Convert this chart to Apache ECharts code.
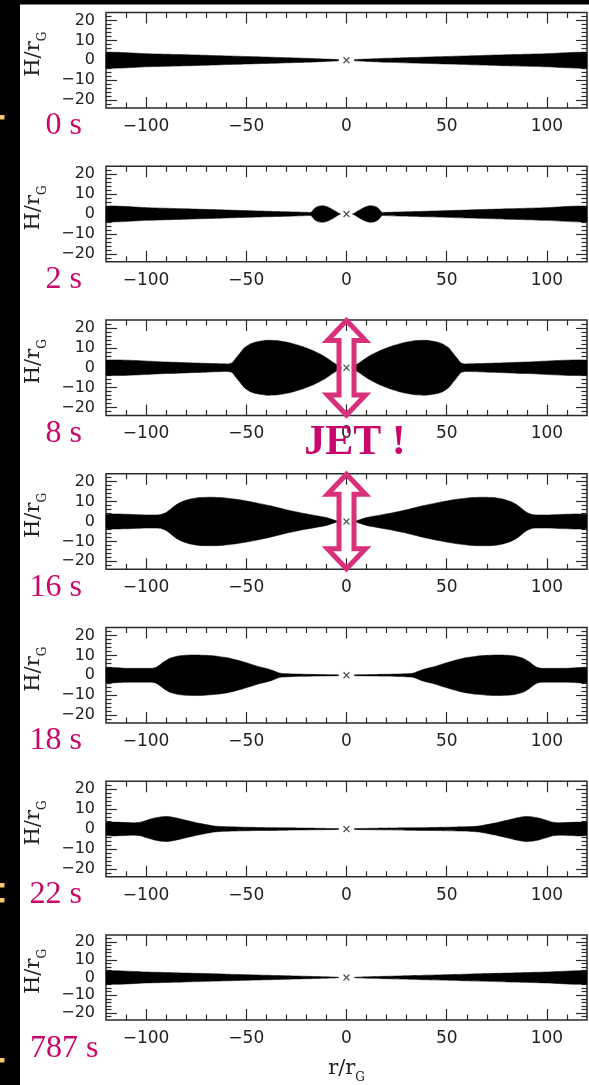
<!DOCTYPE html>
<html>
<head>
<meta charset="utf-8">
<script src="https://cdn.jsdelivr.net/npm/echarts@6/dist/echarts.min.js"></script>
<style>
  html, body { margin: 0; padding: 0; background: #000; }
  #chart { width: 589px; height: 1085px; }
</style>
</head>
<body>
<div id="chart"></div>
<script>
// snapshots of disc half-thickness H (in r_G) against radius r (in r_G), r >= 0 side
const TIME_LABELS = ['0 s', '2 s', '8 s', '16 s', '18 s', '22 s', '787 s'];

const R_0S = [4, 10, 20, 50, 80, 100, 120];
const H_0S = [0.3, 0.6, 1.0, 1.9, 2.8, 3.3, 3.75];

const R_2S = [3, 4, 6, 8, 10, 12, 14, 15.5, 16.5, 17.2, 18, 25, 40, 60, 80, 100, 120];
const H_2S = [0, 0.5, 1.7, 2.9, 3.8, 4.2, 3.9, 3.2, 2.2, 1.2, 0.8, 1.0, 1.4, 2.0, 2.6, 3.2, 3.75];

const R_8S = [2.5, 6, 11, 16, 22, 28, 34, 40, 45, 48, 51, 53, 55, 57, 59, 70, 90, 120];
const H_8S = [0, 2.3, 5.7, 8.3, 10.7, 12.5, 13.6, 13.8, 13.0, 12.0, 10.0, 7.5, 5.0, 2.5, 1.9, 2.2, 2.9, 3.7];

const R_16S = [4, 10, 22, 30, 38, 46, 55, 62, 68, 74, 78, 82, 85, 88, 90, 93, 100, 120];
const H_16S = [0, 2.0, 4.2, 5.9, 7.9, 9.6, 11.2, 12.0, 12.2, 12.0, 11.3, 10.0, 8.4, 6.0, 4.5, 3.4, 3.3, 3.5];

const R_18S = [4, 15, 25, 32, 34, 37, 40, 44, 48, 52, 56, 60, 65, 70, 75, 80, 84, 88, 91, 93, 95, 97, 110, 120];
const H_18S = [0.2, 0.4, 0.6, 0.9, 1.3, 2.5, 3.4, 4.4, 5.7, 6.9, 8.0, 8.9, 9.6, 10.0, 10.2, 10.1, 9.7, 8.6, 6.9, 5.3, 4.0, 3.5, 3.5, 3.6];

const R_22S = [4, 15, 30, 45, 55, 62, 66, 70, 74, 78, 82, 86, 89, 92, 96, 100, 103, 106, 120];
const H_22S = [0.2, 0.4, 0.6, 0.8, 1.0, 1.2, 1.5, 2.2, 3.0, 3.9, 4.9, 5.8, 6.3, 6.2, 5.5, 4.3, 3.4, 3.1, 3.2];

const R_787S = [4, 10, 20, 40, 60, 80, 100, 120];
const H_787S = [0.15, 0.4, 0.7, 1.3, 1.9, 2.5, 3.1, 3.6];

const X_MAJOR = [-100, -50, 0, 50, 100];
const X_MINOR = [-110, -90, -80, -70, -60, -40, -30, -20, -10, 10, 20, 30, 40, 60, 70, 80, 90, 110];
const Y_MAJOR = [-20, -10, 0, 10, 20];
const Y_MINOR = [-22, -18, -16, -14, -12, -8, -6, -4, -2, 2, 4, 6, 8, 12, 14, 16, 18, 22];
const JET_PANELS = [2, 3];

const PROFILES = [
  [R_0S, H_0S], [R_2S, H_2S], [R_8S, H_8S], [R_16S, H_16S],
  [R_18S, H_18S], [R_22S, H_22S], [R_787S, H_787S],
];

const GRID_LEFT = 106;
const GRID_WIDTH = 481;
const GRID_HEIGHT = 95.5;
const FIRST_TOP = 12.5;
const STEP = 153.75;
const INK = '#2a2a2a';
const MAGENTA = '#c8086a';

const chart = echarts.init(document.getElementById('chart'), null, { renderer: 'canvas' });

const minusFmt = (v) => (v < 0 ? '\u2212' + Math.abs(v) : String(v));

const grids = [];
const xAxes = [];
const yAxes = [];
const series = [];
const graphics = [];

graphics.push({ type: 'rect', z: -10, shape: { x: 20, y: 4.5, width: 569, height: 1081 }, style: { fill: '#fff' }, silent: true });
[115, 883, 898, 1058].forEach((y) => {
  graphics.push({ type: 'rect', shape: { x: 0, y: y, width: 4.5, height: 4.5 }, style: { fill: '#f3c36e' }, silent: true });
});

const nameRich = {
  a: { fontFamily: 'DejaVu Serif', fontSize: 21, color: '#222', verticalAlign: 'bottom', padding: [0, 0, 5, 0] },
  b: { fontFamily: 'DejaVu Serif', fontSize: 12, color: '#222', verticalAlign: 'bottom' },
};

PROFILES.forEach(([r, h], i) => {
  const top = FIRST_TOP + i * STEP;
  const last = i === PROFILES.length - 1;
  grids.push({
    left: GRID_LEFT, top: top, width: GRID_WIDTH, height: GRID_HEIGHT,
    show: true, borderColor: INK, borderWidth: 1.5, backgroundColor: 'transparent',
  });

  const hidden = { show: false, onZero: false };
  const tick = (vals, len) => ({ show: true, inside: true, length: len, customValues: vals, lineStyle: { color: INK, width: 1.2 } });

  const xBase = { gridIndex: i, type: 'value', min: -120, max: 120, axisLine: hidden, splitLine: { show: false } };
  xAxes.push(Object.assign({}, xBase, {
    position: 'bottom',
    axisTick: tick(X_MAJOR, 11),
    axisLabel: { customValues: X_MAJOR, formatter: minusFmt, color: '#222', fontFamily: 'DejaVu Sans', fontSize: 17, margin: 10 },
    name: last ? '{a|r/r}{b|G}' : '',
    nameLocation: 'middle',
    nameGap: 38,
    nameTextStyle: { rich: nameRich },
  }));
  xAxes.push(Object.assign({}, xBase, { position: 'bottom', axisTick: tick(X_MINOR, 5.5), axisLabel: { show: false } }));
  xAxes.push(Object.assign({}, xBase, { position: 'top', axisTick: tick(X_MAJOR, 11), axisLabel: { show: false } }));
  xAxes.push(Object.assign({}, xBase, { position: 'top', axisTick: tick(X_MINOR, 5.5), axisLabel: { show: false } }));

  const yBase = { gridIndex: i, type: 'value', min: -24, max: 24, axisLine: hidden, splitLine: { show: false } };
  yAxes.push(Object.assign({}, yBase, {
    position: 'left',
    axisTick: tick(Y_MAJOR, 11),
    axisLabel: { customValues: Y_MAJOR, formatter: minusFmt, color: '#222', fontFamily: 'DejaVu Sans', fontSize: 16, margin: 11 },
    name: '{a|H/r}{b|G}',
    nameLocation: 'middle',
    nameRotate: 90,
    nameGap: 57,
    nameTextStyle: { padding: [0, 0, 0, 12], rich: nameRich },
  }));
  yAxes.push(Object.assign({}, yBase, { position: 'left', axisTick: tick(Y_MINOR, 5.5), axisLabel: { show: false } }));
  yAxes.push(Object.assign({}, yBase, { position: 'right', axisTick: tick(Y_MAJOR, 11), axisLabel: { show: false } }));
  yAxes.push(Object.assign({}, yBase, { position: 'right', axisTick: tick(Y_MINOR, 5.5), axisLabel: { show: false } }));

  // filled band -H..+H, one polygon per side of the hole (side = -1 left, +1 right)
  series.push({
    type: 'custom',
    xAxisIndex: 4 * i,
    yAxisIndex: 4 * i,
    data: [[-1], [1]],
    silent: true,
    z: 2,
    renderItem: (params, api) => {
      const side = api.value(0);
      const box = params.coordSys;
      const upper = r.map((v, k) => api.coord([side * v, h[k]]));
      const lower = r.map((v, k) => api.coord([side * v, -h[k]])).reverse();
      return {
        type: 'polygon',
        shape: {
          points: upper.concat(lower),
          smooth: 0.15,
          smoothConstraint: [[box.x, box.y], [box.x + box.width, box.y + box.height]],
        },
        style: { fill: '#000', stroke: '#000', lineWidth: 0.5 },
      };
    },
  });
  series.push({
    type: 'scatter',
    xAxisIndex: 4 * i,
    yAxisIndex: 4 * i,
    data: [[0, 0]],
    symbol: 'path://M0,0L10,10M10,0L0,10',
    symbolSize: 6,
    itemStyle: { color: 'none', borderColor: '#222', borderWidth: 1.1 },
    silent: true,
    z: 5,
  });

  const label = TIME_LABELS[i];
  const long = label.length > 4;
  graphics.push({
    type: 'text',
    z: 20,
    silent: true,
    style: {
      text: label,
      x: long ? 30 : 82,
      y: top + GRID_HEIGHT + 18,
      align: long ? 'left' : 'right',
      verticalAlign: 'middle',
      font: '32px "Liberation Serif"',
      fill: MAGENTA,
    },
  });
});

// hollow double-headed "jet" arrows on the 8 s and 16 s panels
JET_PANELS.forEach((i) => {
  const top = FIRST_TOP + i * STEP;
  const cx = GRID_LEFT + GRID_WIDTH / 2;
  const t = top + 0.5;
  const b = top + GRID_HEIGHT - 0.5;
  const hw = 19, sw = 7.5, hl = 20;
  graphics.push({
    type: 'polygon',
    z: 30,
    silent: true,
    shape: {
      points: [
        [cx, t], [cx + hw, t + hl], [cx + sw, t + hl], [cx + sw, b - hl], [cx + hw, b - hl],
        [cx, b], [cx - hw, b - hl], [cx - sw, b - hl], [cx - sw, t + hl], [cx - hw, t + hl],
      ],
    },
    style: { fill: 'none', stroke: '#d8307a', lineWidth: 5, lineJoin: 'miter' },
  });
});

graphics.push({
  type: 'text',
  z: 31,
  silent: true,
  style: {
    text: 'JET !',
    x: 355,
    y: 443,
    align: 'center',
    verticalAlign: 'middle',
    font: 'bold 42px "Liberation Serif"',
    fill: MAGENTA,
  },
});

chart.setOption({
  animation: false,
  backgroundColor: 'transparent',
  grid: grids,
  xAxis: xAxes,
  yAxis: yAxes,
  series: series,
  graphic: { elements: graphics },
});
</script>
</body>
</html>
